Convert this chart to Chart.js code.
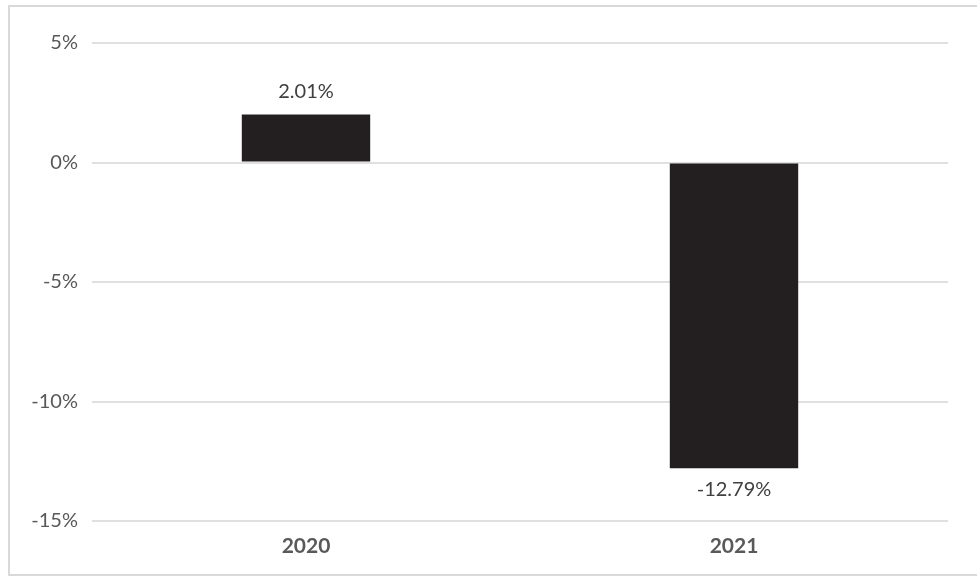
<!DOCTYPE html>
<html>
<head>
<meta charset="utf-8">
<script src="https://cdn.jsdelivr.net/npm/chart.js@4/dist/chart.umd.min.js"></script>
<style>
  html, body { margin: 0; padding: 0; background: #fff; }
  #wrap { width: 977px; height: 576px; }
</style>
</head>
<body>
<div id="wrap"><canvas id="growthChart" width="977" height="576"></canvas></div>
<script>
const years = ['2020', '2021'];
const growth = [2.01, -12.79];
const yTicks = [5, 0, -5, -10, -15];

const FONT = 'Lato, "Open Sans", sans-serif';

// outer frame + value labels
const framePlugin = {
  id: 'frame',
  afterDraw(chart) {
    const ctx = chart.ctx;
    ctx.save();
    ctx.strokeStyle = '#d9d9d9';
    ctx.lineWidth = 2;
    ctx.strokeRect(9, 6, 990, 569);

    const meta = chart.getDatasetMeta(0);
    ctx.fillStyle = '#404040';
    ctx.font = '20px ' + FONT;
    ctx.textAlign = 'center';
    ctx.textBaseline = 'middle';
    meta.data.forEach((bar, i) => {
      const v = growth[i];
      const y = v >= 0 ? bar.y - 23 : bar.y + 21;
      ctx.fillText(v.toFixed(2) + '%', bar.x, y);
    });
    ctx.restore();
  }
};

new Chart(document.getElementById('growthChart'), {
  type: 'bar',
  data: {
    labels: years,
    datasets: [{
      data: growth,
      backgroundColor: '#231f20',
      barPercentage: 0.6,
      categoryPercentage: 0.5
    }]
  },
  options: {
    responsive: false,
    animation: false,
    layout: { padding: { left: 0, right: 29, top: 43, bottom: 0 } },
    plugins: { legend: { display: false }, tooltip: { enabled: false } },
    scales: {
      x: {
        grid: { display: false },
        border: { display: false },
        ticks: { color: '#595959', font: { size: 21, weight: 'bold', family: FONT }, padding: 5 },
        afterFit: (scale) => { scale.height = 55; }
      },
      y: {
        min: -15,
        max: 5,
        afterBuildTicks: (scale) => { scale.ticks = yTicks.map(v => ({ value: v })); },
        grid: { color: '#e0e0e0', lineWidth: 2, drawTicks: false },
        border: { display: false },
        ticks: {
          color: '#595959',
          font: { size: 20, family: FONT },
          padding: 14,
          callback: (v) => v + '%'
        },
        afterFit: (scale) => { scale.width = 92; }
      }
    }
  },
  plugins: [framePlugin]
});
</script>
</body>
</html>
